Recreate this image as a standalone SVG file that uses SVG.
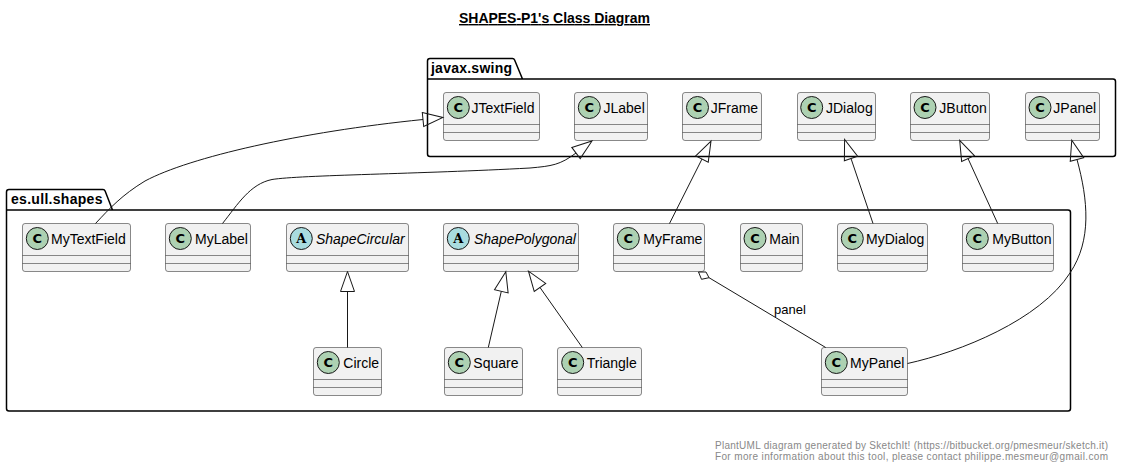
<svg xmlns="http://www.w3.org/2000/svg" width="1121" height="468" viewBox="0 0 1121 468">
<style>
text{font-family:"Liberation Sans",Arial,sans-serif;fill:#000}
.pkg{fill:none;stroke:#000;stroke-width:1.5}
.pt{font-size:14px;font-weight:bold}
.box{fill:#F1F1F1;stroke:#181818;stroke-width:.5}
.sep{stroke:#181818;stroke-width:.5;fill:none}
.cc{fill:#ADD1B2;stroke:#181818;stroke-width:1}
.ca{fill:#A9DCDF;stroke:#181818;stroke-width:1}
.g{font-family:"DejaVu Sans",sans-serif;font-weight:bold;font-size:13px;text-anchor:middle}
.ga{font-family:"DejaVu Serif",serif;font-weight:bold;font-size:13px;text-anchor:middle}
.n{font-size:14px}
.i{font-style:italic}
.l{fill:none;stroke:#181818;stroke-width:1}
.ext{marker-end:url(#tri)}
.foot{font-size:10px;fill:#888888}
</style>
<defs>
<marker id="tri" markerUnits="userSpaceOnUse" viewBox="0 0 22 16" markerWidth="22" markerHeight="16" refX="0.5" refY="8" orient="auto" overflow="visible">
<polygon points="0.5,1 20.5,8 0.5,15" fill="none" stroke="#181818" stroke-width="1"/>
</marker>
</defs>
<rect width="1121" height="468" fill="#fff"/>
<text id="title" x="459" y="23" font-size="14" font-weight="bold" text-decoration="underline" textLength="191" lengthAdjust="spacing">SHAPES-P1's Class Diagram</text>

<g id="pkg-javax-swing">
<path class="pkg" d="M430,58.5H512.5Q514,58.5 514.6,60L522.5,79H1113Q1115.5,79 1115.5,81.5V154Q1115.5,156.5 1113,156.5H430Q427.5,156.5 427.5,154V61Q427.5,58.5 430,58.5ZM427.5,79H522.5"/>
<text class="pt" x="431" y="73" textLength="81" lengthAdjust="spacing">javax.swing</text>
</g>
<g id="pkg-es-ull-shapes">
<path class="pkg" d="M9,189.5H103Q104.5,189.5 105.1,191L112.5,210H1068Q1070.5,210 1070.5,212.5V408.5Q1070.5,411 1068,411H9Q6.5,411 6.5,408.5V192Q6.5,189.5 9,189.5ZM6.5,210H112.5"/>
<text class="pt" x="11" y="204" textLength="91.5" lengthAdjust="spacing">es.ull.shapes</text>
</g>

<g id="JTextField"><rect class="box" x="443.5" y="92.5" width="96" height="48" rx="2.5"/><path class="sep" d="M443.5,124.5H539.5M443.5,132.5H539.5"/><circle class="cc" cx="458.3" cy="107.5" r="11"/><text class="g" x="458.3" y="112.2">C</text><text class="n" x="471.5" y="113">JTextField</text></g>
<g id="JLabel"><rect class="box" x="574.5" y="92.5" width="73" height="48" rx="2.5"/><path class="sep" d="M574.5,124.5H647.5M574.5,132.5H647.5"/><circle class="cc" cx="589.3" cy="107.5" r="11"/><text class="g" x="589.3" y="112.2">C</text><text class="n" x="603.5" y="113">JLabel</text></g>
<g id="JFrame"><rect class="box" x="682.5" y="92.5" width="79" height="48" rx="2.5"/><path class="sep" d="M682.5,124.5H761.5M682.5,132.5H761.5"/><circle class="cc" cx="697.5" cy="107.5" r="11"/><text class="g" x="697.5" y="112.2">C</text><text class="n" x="710.7" y="113">JFrame</text></g>
<g id="JDialog"><rect class="box" x="797.5" y="92.5" width="78" height="48" rx="2.5"/><path class="sep" d="M797.5,124.5H875.5M797.5,132.5H875.5"/><circle class="cc" cx="811.7" cy="107.5" r="11"/><text class="g" x="811.7" y="112.2">C</text><text class="n" x="826" y="113">JDialog</text></g>
<g id="JButton"><rect class="box" x="910.5" y="92.5" width="79" height="48" rx="2.5"/><path class="sep" d="M910.5,124.5H989.5M910.5,132.5H989.5"/><circle class="cc" cx="925" cy="107.5" r="11"/><text class="g" x="925" y="112.2">C</text><text class="n" x="939.3" y="113">JButton</text></g>
<g id="JPanel"><rect class="box" x="1025.5" y="92.5" width="74" height="48" rx="2.5"/><path class="sep" d="M1025.5,124.5H1099.5M1025.5,132.5H1099.5"/><circle class="cc" cx="1040" cy="107.5" r="11"/><text class="g" x="1040" y="112.2">C</text><text class="n" x="1053.3" y="113">JPanel</text></g>

<g id="MyTextField"><rect class="box" x="22.5" y="223.5" width="108" height="48" rx="2.5"/><path class="sep" d="M22.5,255.5H130.5M22.5,263.5H130.5"/><circle class="cc" cx="37.3" cy="238.5" r="11"/><text class="g" x="37.3" y="243.2">C</text><text class="n" x="51" y="244">MyTextField</text></g>
<g id="MyLabel"><rect class="box" x="165.5" y="223.5" width="85" height="48" rx="2.5"/><path class="sep" d="M165.5,255.5H250.5M165.5,263.5H250.5"/><circle class="cc" cx="180.3" cy="238.5" r="11"/><text class="g" x="180.3" y="243.2">C</text><text class="n" x="195" y="244">MyLabel</text></g>
<g id="ShapeCircular"><rect class="box" x="286.5" y="223.5" width="122" height="48" rx="2.5"/><path class="sep" d="M286.5,255.5H408.5M286.5,263.5H408.5"/><circle class="ca" cx="301.3" cy="238.5" r="11"/><text class="ga" x="301.3" y="243.2">A</text><text class="n i" x="316" y="244">ShapeCircular</text></g>
<g id="ShapePolygonal"><rect class="box" x="443.5" y="223.5" width="135" height="48" rx="2.5"/><path class="sep" d="M443.5,255.5H578.5M443.5,263.5H578.5"/><circle class="ca" cx="458.3" cy="238.5" r="11"/><text class="ga" x="458.3" y="243.2">A</text><text class="n i" x="474" y="244">ShapePolygonal</text></g>
<g id="MyFrame"><rect class="box" x="613.5" y="223.5" width="91" height="48" rx="2.5"/><path class="sep" d="M613.5,255.5H704.5M613.5,263.5H704.5"/><circle class="cc" cx="628.3" cy="238.5" r="11"/><text class="g" x="628.3" y="243.2">C</text><text class="n" x="643.3" y="244">MyFrame</text></g>
<g id="Main"><rect class="box" x="740.5" y="223.5" width="62" height="48" rx="2.5"/><path class="sep" d="M740.5,255.5H802.5M740.5,263.5H802.5"/><circle class="cc" cx="755" cy="238.5" r="11"/><text class="g" x="755" y="243.2">C</text><text class="n" x="769.3" y="244">Main</text></g>
<g id="MyDialog"><rect class="box" x="837.5" y="223.5" width="90" height="48" rx="2.5"/><path class="sep" d="M837.5,255.5H927.5M837.5,263.5H927.5"/><circle class="cc" cx="852.3" cy="238.5" r="11"/><text class="g" x="852.3" y="243.2">C</text><text class="n" x="866" y="244">MyDialog</text></g>
<g id="MyButton"><rect class="box" x="962.5" y="223.5" width="91" height="48" rx="2.5"/><path class="sep" d="M962.5,255.5H1053.5M962.5,263.5H1053.5"/><circle class="cc" cx="977.3" cy="238.5" r="11"/><text class="g" x="977.3" y="243.2">C</text><text class="n" x="992.3" y="244">MyButton</text></g>

<g id="Circle"><rect class="box" x="313.5" y="347.5" width="68" height="48" rx="2.5"/><path class="sep" d="M313.5,379.5H381.5M313.5,387.5H381.5"/><circle class="cc" cx="328.3" cy="362.5" r="11"/><text class="g" x="328.3" y="367.2">C</text><text class="n" x="343.3" y="368">Circle</text></g>
<g id="Square"><rect class="box" x="444.5" y="347.5" width="78" height="48" rx="2.5"/><path class="sep" d="M444.5,379.5H522.5M444.5,387.5H522.5"/><circle class="cc" cx="459.3" cy="362.5" r="11"/><text class="g" x="459.3" y="367.2">C</text><text class="n" x="473.3" y="368">Square</text></g>
<g id="Triangle"><rect class="box" x="557.5" y="347.5" width="84" height="48" rx="2.5"/><path class="sep" d="M557.5,379.5H641.5M557.5,387.5H641.5"/><circle class="cc" cx="572.7" cy="362.5" r="11"/><text class="g" x="572.7" y="367.2">C</text><text class="n" x="586.7" y="368">Triangle</text></g>
<g id="MyPanel"><rect class="box" x="821.5" y="347.5" width="86" height="48" rx="2.5"/><path class="sep" d="M821.5,379.5H907.5M821.5,387.5H907.5"/><circle class="cc" cx="836.3" cy="362.5" r="11"/><text class="g" x="836.3" y="367.2">C</text><text class="n" x="850" y="368">MyPanel</text></g>

<g id="connectors">
<path class="l ext" d="M95.5,223.5C110,208 122,195 145,181C190,157 300,132 423,119.5"/>
<path class="l ext" d="M222.5,223.5C238,204 250,184 272,179.5C300,175 420,174 530,168C552,166 560,165 576,153"/>
<path class="l ext" d="M669.5,223.5L702,159"/>
<path class="l ext" d="M873,223.5L851,158.5"/>
<path class="l ext" d="M997.7,223.5L968,158.5"/>
<path class="l ext" d="M907.5,363.5C960,352 1040,320 1070,273C1092,240 1088,200 1077,159.5"/>
<path class="l ext" d="M347.5,347.5V291.5"/>
<path class="l ext" d="M488.3,347.5L501.3,291.3"/>
<path class="l ext" d="M582.3,347.5L540,287.5"/>
<path class="l" d="M825.7,347.5L709,277.7"/>
<polygon class="l" points="698.5,272 706,272 709,277.7 701.5,279.3"/>
<text x="774" y="314" font-size="13">panel</text>
</g>
<text class="foot" x="715" y="449" textLength="393" lengthAdjust="spacing">PlantUML diagram generated by SketchIt! (https://bitbucket.org/pmesmeur/sketch.it)</text>
<text class="foot" x="715" y="460" textLength="393" lengthAdjust="spacing">For more information about this tool, please contact philippe.mesmeur@gmail.com</text>
</svg>
